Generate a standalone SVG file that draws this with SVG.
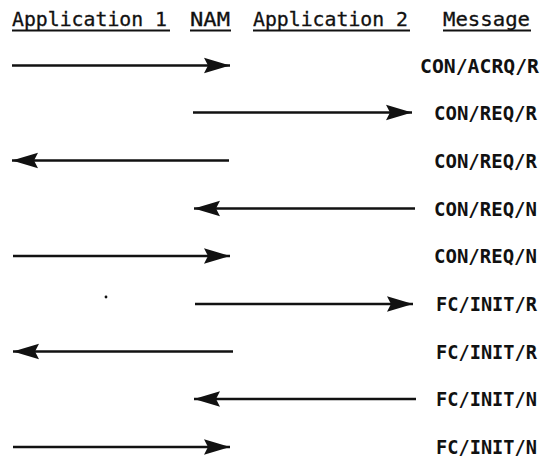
<svg xmlns="http://www.w3.org/2000/svg" width="558" height="460" viewBox="0 0 558 460">
<style>
.hdr{font-family:"DejaVu Sans Mono","Liberation Mono",monospace;font-size:19.5px;fill:#111;stroke:#111;stroke-width:0.3}
.lbl{font-family:"DejaVu Sans Mono","Liberation Mono",monospace;font-size:20px;font-weight:bold;fill:#111}
.ul{stroke:#111;stroke-width:2}
.arr{stroke:#111;stroke-width:2.5;fill:none;marker-end:url(#ah)}
</style>
<defs>
<marker id="ah" markerUnits="userSpaceOnUse" markerWidth="27" markerHeight="18" refX="26" refY="9" orient="auto">
<path d="M0,1.2 L26,9 L0,16.8 L4,9 Z" fill="#111"/>
</marker>
</defs>
<rect width="558" height="460" fill="#fff"/>
<g id="headers">
<text class="hdr" x="12" y="25.5" textLength="155" lengthAdjust="spacingAndGlyphs">Application 1</text>
<line class="ul" x1="12" y1="30.5" x2="170" y2="30.5"/>
<text class="hdr" x="190" y="25.5" textLength="40" lengthAdjust="spacingAndGlyphs">NAM</text>
<line class="ul" x1="190" y1="30.5" x2="231" y2="30.5"/>
<text class="hdr" x="253" y="25.5" textLength="155" lengthAdjust="spacingAndGlyphs">Application 2</text>
<line class="ul" x1="253" y1="30.5" x2="410" y2="30.5"/>
<text class="hdr" x="443" y="25.5" textLength="87" lengthAdjust="spacingAndGlyphs">Message</text>
<line class="ul" x1="443" y1="30.5" x2="531" y2="30.5"/>
</g>
<g id="connectors">
<line class="arr" x1="12" y1="65.5" x2="230" y2="65.5"/>
<line class="arr" x1="193" y1="112.5" x2="412" y2="112.5"/>
<line class="arr" x1="229" y1="160.5" x2="12" y2="160.5"/>
<line class="arr" x1="415" y1="208.5" x2="194" y2="208.5"/>
<line class="arr" x1="13" y1="256" x2="230" y2="256"/>
<line class="arr" x1="195" y1="304" x2="413" y2="304"/>
<line class="arr" x1="233" y1="351.5" x2="13" y2="351.5"/>
<line class="arr" x1="416" y1="399" x2="194" y2="399"/>
<line class="arr" x1="13" y1="447" x2="230" y2="447"/>
</g>
<g id="labels">
<text class="lbl" x="420" y="72.5" textLength="119" lengthAdjust="spacingAndGlyphs">CON/ACRQ/R</text>
<text class="lbl" x="434" y="119.5" textLength="103" lengthAdjust="spacingAndGlyphs">CON/REQ/R</text>
<text class="lbl" x="434" y="167.5" textLength="103" lengthAdjust="spacingAndGlyphs">CON/REQ/R</text>
<text class="lbl" x="434" y="215.5" textLength="103" lengthAdjust="spacingAndGlyphs">CON/REQ/N</text>
<text class="lbl" x="434" y="263" textLength="103" lengthAdjust="spacingAndGlyphs">CON/REQ/N</text>
<text class="lbl" x="436" y="311" textLength="101" lengthAdjust="spacingAndGlyphs">FC/INIT/R</text>
<text class="lbl" x="436" y="358.5" textLength="101" lengthAdjust="spacingAndGlyphs">FC/INIT/R</text>
<text class="lbl" x="436" y="406" textLength="101" lengthAdjust="spacingAndGlyphs">FC/INIT/N</text>
<text class="lbl" x="436" y="454" textLength="101" lengthAdjust="spacingAndGlyphs">FC/INIT/N</text>
</g>
<circle cx="106" cy="297" r="1.4" fill="#111"/>
</svg>
